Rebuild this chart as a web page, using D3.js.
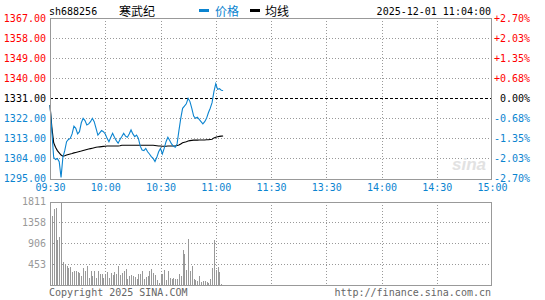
<!DOCTYPE html>
<html>
<head>
<meta charset="utf-8">
<script src="https://cdn.jsdelivr.net/npm/d3@7"></script>
<style>
  body { margin: 0; background: #fff; }
  text { font-family: "DejaVu Sans Mono", monospace; font-size: 10px; }
  .cjk { font-family: "Noto Sans CJK SC", sans-serif; font-size: 12px; }
</style>
</head>
<body>
<svg id="chart" width="545" height="300"></svg>
<script>
// header
const symbol = "sh688256";
const stockName = "寒武纪";
const stamp = "2025-12-01 11:04:00";
const legendNames = ["价格", "均线"];

// axis labels
const timeLabels = ["09:30", "10:00", "10:30", "11:00", "11:30", "13:30", "14:00", "14:30", "15:00"];
const priceTicks = [1367, 1358, 1349, 1340, 1331, 1322, 1313, 1304, 1295];
const pctLabels = ["+2.70%", "+2.03%", "+1.35%", "+0.68%", "0.00%", "-0.68%", "-1.35%", "-2.03%", "-2.70%"];
const prevClose = 1331;
const volTicks = [1811, 1358, 906, 453];

// one value per minute from 09:30
const prices = [
  1328, 1316, 1304.5, 1303.5, 1304, 1302.5, 1295.5, 1304.5, 1307.5, 1311.5,
  1312.5, 1313, 1315, 1318.5, 1317.5, 1315, 1316, 1320, 1322, 1321,
  1319, 1319.5, 1320.5, 1322, 1320.5, 1317.5, 1314.5, 1315.5, 1316.5, 1316,
  1315, 1313, 1311.5, 1313.5, 1315.3, 1313.5, 1312, 1310.8, 1312.5, 1313.8,
  1315.3, 1314, 1313.5, 1315, 1316.8, 1315, 1313.8, 1314.5, 1313, 1309.5,
  1307.8, 1307.5, 1308.5, 1307, 1306, 1304.8, 1304, 1302.6, 1304.5, 1307,
  1308.5, 1306, 1308.5, 1311.5, 1313.5, 1312, 1310.5, 1309.5, 1309, 1310.5,
  1316.5, 1322, 1326.5, 1327.5, 1328.5, 1331, 1329.5, 1326.5, 1323, 1322,
  1322.5, 1321.5, 1320.5, 1319.5, 1320.5, 1322, 1324.5, 1326.5, 1329, 1334,
  1337.5, 1335, 1335.3, 1334.6, 1334.5
];
const avgPrices = [
  1328, 1318, 1311, 1309, 1307.5, 1306.5, 1305.5, 1305, 1305.2, 1305.5,
  1305.8, 1306, 1306.2, 1306.5, 1306.7, 1306.9, 1307.1, 1307.3, 1307.6, 1307.8,
  1308, 1308.2, 1308.4, 1308.6, 1308.8, 1309, 1309.1, 1309.2, 1309.3, 1309.4,
  1309.5, 1309.6, 1309.6, 1309.6, 1309.6, 1309.6, 1309.6, 1309.6, 1309.7, 1309.9,
  1309.9, 1309.9, 1309.9, 1309.9, 1309.9, 1309.9, 1309.9, 1309.9, 1309.9, 1309.9,
  1309.9, 1309.9, 1309.9, 1309.9, 1309.9, 1309.9, 1309.9, 1309.8, 1309.7, 1309.6,
  1309.6, 1309.5, 1309.5, 1309.5, 1309.6, 1309.6, 1309.6, 1309.6, 1309.6, 1309.8,
  1310, 1310.5, 1311, 1311.3, 1311.5, 1311.8, 1312, 1312.1, 1312.2, 1312.2,
  1312.2, 1312.3, 1312.3, 1312.3, 1312.3, 1312.4, 1312.4, 1312.5, 1312.6, 1313.2,
  1313.5, 1313.7, 1313.9, 1314, 1314.1
];
const volumes = [
  304, 1503, 1641, 1677, 976, 1048, 1811, 506, 434, 412,
  361, 398, 289, 311, 304, 289, 267, 195, 361, 304,
  412, 159, 304, 195, 304, 159, 304, 239, 239, 145,
  217, 289, 145, 267, 217, 289, 239, 412, 217, 253,
  304, 347, 130, 195, 217, 195, 166, 130, 239, 239,
  304, 130, 166, 195, 304, 347, 267, 217, 108, 36,
  217, 239, 325, 108, 304, 145, 130, 145, 130, 130,
  239, 195, 759, 672, 325, 998, 311, 412, 130, 108,
  94, 195, 72, 94, 94, 72, 51, 130, 362, 976,
  325, 398, 289, 30, 0
];

const red = "#f00", blue = "#0b84d0", gray = "#999";
const svg = d3.select("#chart");

const x = d3.scaleLinear().domain([0, 240]).range([50, 492]);
const y = d3.scaleLinear().domain([1295, 1367]).range([178.5, 18]);
const yv = d3.scaleLinear().domain([0, 1811]).range([285, 201.5]);
const tickColor = v => v > prevClose ? red : v < prevClose ? blue : "#000";

// grid, price panel
const grid = svg.append("g").attr("stroke", gray).attr("stroke-dasharray", "1,2").attr("shape-rendering", "crispEdges");
grid.selectAll(".hp").data(priceTicks.filter(v => v !== prevClose && v !== 1367 && v !== 1295)).join("line")
  .attr("x1", 50).attr("x2", 492).attr("y1", d => Math.round(y(d)) + 0.5).attr("y2", d => Math.round(y(d)) + 0.5);
grid.selectAll(".vp").data(timeLabels.slice(1, -1)).join("line")
  .attr("x1", (d, i) => Math.round(x((i + 1) * 30)) + 0.5).attr("x2", (d, i) => Math.round(x((i + 1) * 30)) + 0.5)
  .attr("y1", y(1367)).attr("y2", y(1295));
grid.selectAll(".hv").data(volTicks.slice(1)).join("line")
  .attr("x1", 50).attr("x2", 492).attr("y1", d => Math.round(yv(d)) + 0.5).attr("y2", d => Math.round(yv(d)) + 0.5);
grid.selectAll(".vv").data(timeLabels.slice(1, -1)).join("line")
  .attr("x1", (d, i) => Math.round(x((i + 1) * 30)) + 0.5).attr("x2", (d, i) => Math.round(x((i + 1) * 30)) + 0.5)
  .attr("y1", yv(1811)).attr("y2", yv(0));

// previous close
svg.append("line").attr("x1", 50).attr("x2", 492)
  .attr("y1", Math.round(y(prevClose)) + 0.5).attr("y2", Math.round(y(prevClose)) + 0.5)
  .attr("stroke", "#000").attr("stroke-dasharray", "3,2").attr("shape-rendering", "crispEdges");

// watermark
svg.append("text").attr("x", 452).attr("y", 170).text("sina")
  .style("font-family", "Liberation Sans").style("font-size", "17px").style("font-style", "italic")
  .style("font-weight", "bold").attr("fill", "#e2e2e2");

// volume bars
svg.append("g").selectAll("rect").data(volumes).join("rect")
  .attr("x", (d, i) => Math.round(x(i)))
  .attr("width", 1)
  .attr("y", d => yv(d))
  .attr("height", d => yv(0) - yv(d))
  .attr("fill", gray)
  .attr("shape-rendering", "crispEdges");

// lines
svg.append("path").datum(avgPrices)
  .attr("d", d3.line().x((d, i) => x(i)).y(d => y(d)))
  .attr("fill", "none").attr("stroke", "#000").attr("stroke-width", 1.1);
svg.append("path").datum(prices)
  .attr("d", d3.line().x((d, i) => x(i)).y(d => y(d)))
  .attr("fill", "none").attr("stroke", blue).attr("stroke-width", 1.1);

// frames
[[y(1367), y(1295)], [yv(1811), yv(0)]].forEach(([t, b]) => {
  svg.append("rect").attr("x", 50.5).attr("y", Math.round(t) + 0.5)
    .attr("width", 441).attr("height", Math.round(b) - Math.round(t))
    .attr("fill", "none").attr("stroke", gray).attr("shape-rendering", "crispEdges");
});

// left price axis
const leftAxis = svg.append("g").attr("transform", "translate(50,0)")
  .call(d3.axisLeft(y).tickValues(priceTicks).tickSize(0).tickPadding(4).tickFormat(d3.format(".2f")));
leftAxis.select(".domain").remove();
leftAxis.attr("font-family", null).attr("font-size", null);
leftAxis.selectAll("text").attr("fill", d => tickColor(d));

// right percent axis
const rightAxis = svg.append("g").attr("transform", "translate(492,0)")
  .call(d3.axisRight(y).tickValues(priceTicks).tickSize(0).tickFormat((d, i) => pctLabels[i]));
rightAxis.select(".domain").remove();
rightAxis.attr("font-family", null).attr("font-size", null);
rightAxis.selectAll("text").attr("x", 38).attr("text-anchor", "end").attr("fill", d => tickColor(d));

// time axis
const timeAxis = svg.append("g").attr("transform", "translate(0,184)")
  .call(d3.axisBottom(x).tickValues(d3.range(0, 241, 30)).tickSize(0).tickPadding(0).tickFormat((d, i) => timeLabels[i]));
timeAxis.select(".domain").remove();
timeAxis.attr("font-family", null).attr("font-size", null);
timeAxis.selectAll("text").attr("fill", blue).attr("dy", "0.71em");

// volume axis
const volAxis = svg.append("g").attr("transform", "translate(50,0)")
  .call(d3.axisLeft(yv).tickValues(volTicks).tickSize(0).tickPadding(4).tickFormat(d3.format("d")));
volAxis.select(".domain").remove();
volAxis.attr("font-family", null).attr("font-size", null);
volAxis.selectAll("text").attr("fill", gray);

// header
svg.append("text").attr("x", 49).attr("y", 15).text(symbol).attr("fill", "#000");
svg.append("text").attr("class", "cjk").attr("x", 119).attr("y", 15.5).text(stockName).attr("fill", "#000");
svg.append("rect").attr("x", 199).attr("y", 9).attr("width", 10).attr("height", 3).attr("fill", blue);
svg.append("text").attr("class", "cjk").attr("x", 215).attr("y", 15.5).text(legendNames[0]).attr("fill", blue);
svg.append("rect").attr("x", 250).attr("y", 9).attr("width", 10).attr("height", 3).attr("fill", "#000");
svg.append("text").attr("class", "cjk").attr("x", 265).attr("y", 15.5).text(legendNames[1]).attr("fill", "#000");
svg.append("text").attr("x", 491).attr("y", 15).attr("text-anchor", "end").text(stamp).attr("fill", "#000");

// footer
svg.append("text").attr("x", 49).attr("y", 296).text("Copyright 2025 SINA.COM").attr("fill", "#666");
svg.append("text").attr("x", 491).attr("y", 296).attr("text-anchor", "end").text("http://finance.sina.com.cn").attr("fill", "#666");
</script>
</body>
</html>
